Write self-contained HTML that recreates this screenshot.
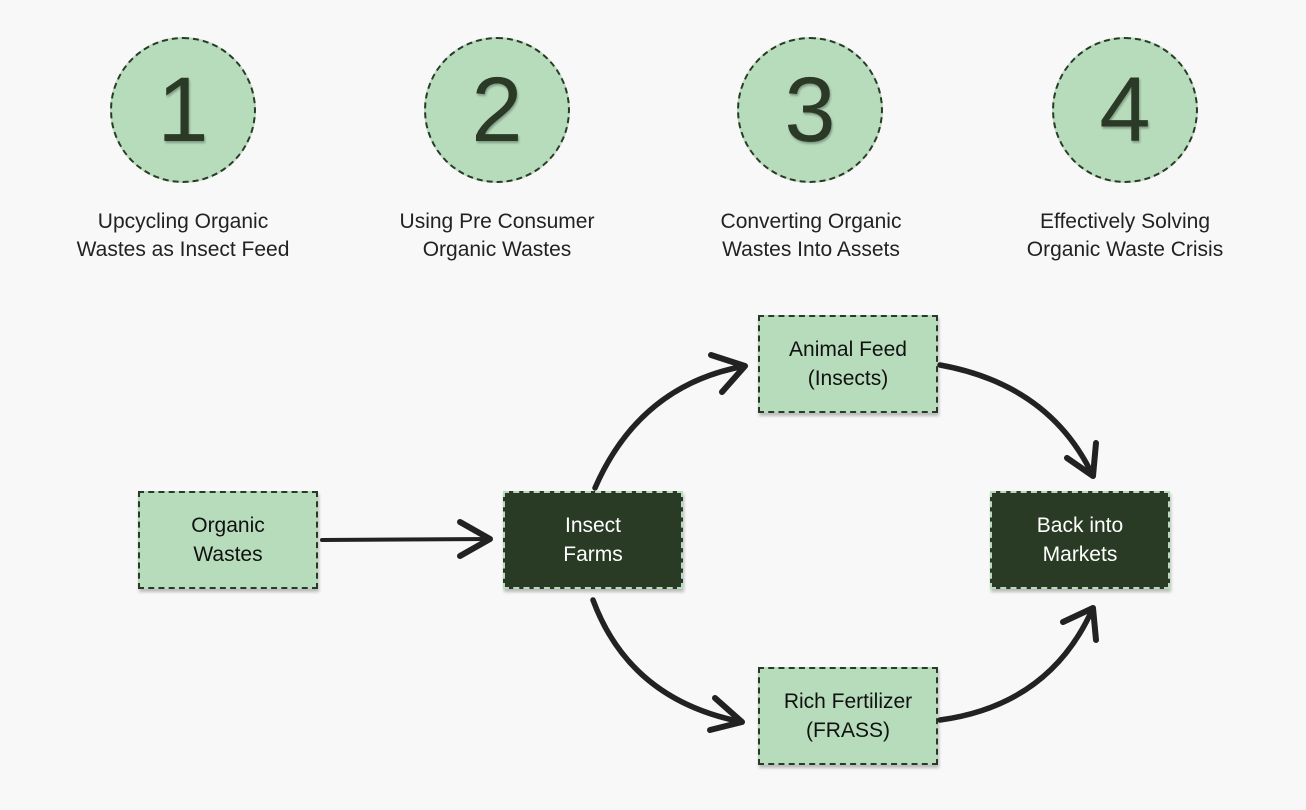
<!DOCTYPE html>
<html><head><style>
body{margin:0;width:1306px;height:810px;background:#f8f8f8;font-family:"Liberation Sans",sans-serif;position:relative;overflow:hidden}
.c{position:absolute;width:146px;height:146px;border-radius:50%;background:#b7dcbb;border:2px dashed #2a3a27;box-sizing:border-box;display:flex;align-items:center;justify-content:center;font-size:92px;color:#2a3a27;text-shadow:1px 2px 2px rgba(0,0,0,.3)}
.l{position:absolute;width:300px;text-align:center;font-size:21px;line-height:28px;color:#222}
.b{position:absolute;width:180px;height:98px;box-sizing:border-box;border:2px dashed #2a3a27;background:#b7dcbb;display:flex;align-items:center;justify-content:center;text-align:center;font-size:21px;line-height:29px;color:#111;box-shadow:1px 3px 3px rgba(0,0,0,.25)}
.d{background:#2a3b25;color:#fff;border-color:#b7dcbb}
</style></head><body>
<div class="c" style="left:110px;top:37px">1</div>
<div class="c" style="left:424px;top:37px">2</div>
<div class="c" style="left:737px;top:37px">3</div>
<div class="c" style="left:1052px;top:37px">4</div>
<div class="l" style="left:33px;top:208px">Upcycling Organic<br>Wastes as Insect Feed</div>
<div class="l" style="left:347px;top:208px">Using Pre Consumer<br>Organic Wastes</div>
<div class="l" style="left:661px;top:208px">Converting Organic<br>Wastes Into Assets</div>
<div class="l" style="left:975px;top:208px">Effectively Solving<br>Organic Waste Crisis</div>
<div class="b" style="left:138px;top:491px">Organic<br>Wastes</div>
<div class="b d" style="left:503px;top:491px">Insect<br>Farms</div>
<div class="b" style="left:758px;top:315px">Animal Feed<br>(Insects)</div>
<div class="b d" style="left:990px;top:491px">Back into<br>Markets</div>
<div class="b" style="left:758px;top:667px">Rich Fertilizer<br>(FRASS)</div>
<svg width="1306" height="810" style="position:absolute;left:0;top:0" fill="none" stroke="#222" stroke-linecap="round" stroke-linejoin="round">
<path d="M322 540 L490 539" stroke-width="4"/>
<path d="M460 522 L490 539 L460 556" stroke-width="6"/>
<path d="M595 488 Q640 385 745 366" stroke-width="5.5"/>
<path d="M711 355 L745 366 L722 392" stroke-width="6"/>
<path d="M940 365 Q1050 385 1093 476" stroke-width="5.5"/>
<path d="M1067 458 L1093 476 L1096 443" stroke-width="6"/>
<path d="M593 600 Q630 700 742 722" stroke-width="5.5"/>
<path d="M715 698 L742 722 L710 730" stroke-width="6"/>
<path d="M940 720 Q1050 705 1093 608" stroke-width="5.5"/>
<path d="M1063 622 L1093 608 L1096 640" stroke-width="6"/>
</svg>
</body></html>
